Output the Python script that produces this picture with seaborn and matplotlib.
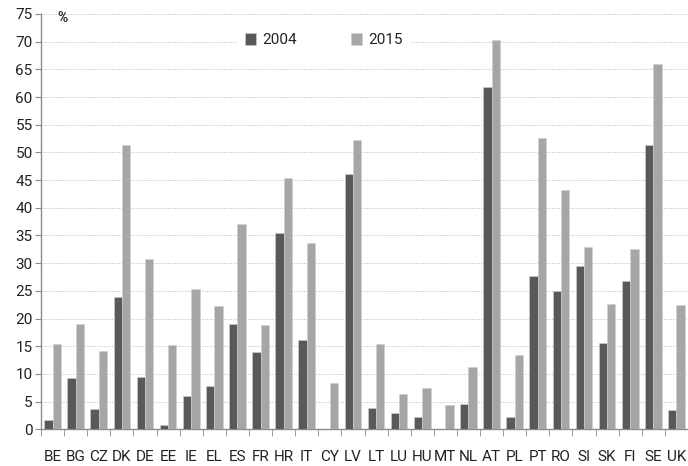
import numpy as np
import pandas as pd
import matplotlib
matplotlib.use('Agg')
import matplotlib.pyplot as plt
from matplotlib import font_manager
import seaborn as sns

countries = ['BE', 'BG', 'CZ', 'DK', 'DE', 'EE', 'IE', 'EL', 'ES', 'FR', 'HR', 'IT', 'CY', 'LV',
             'LT', 'LU', 'HU', 'MT', 'NL', 'AT', 'PL', 'PT', 'RO', 'SI', 'SK', 'FI', 'SE', 'UK']
v2004 = [1.6, 9.2, 3.7, 23.8, 9.4, 0.7, 6.1, 7.9, 19.1, 13.9, 35.4, 16.2, np.nan, 46.1,
         3.8, 2.9, 2.2, np.nan, 4.5, 61.9, 2.2, 27.6, 25.0, 29.4, 15.5, 26.8, 51.3, 3.4]
v2015 = [15.4, 19.1, 14.1, 51.3, 30.8, 15.2, 25.3, 22.2, 37.0, 18.8, 45.3, 33.6, 8.4, 52.3,
         15.4, 6.3, 7.4, 4.3, 11.3, 70.3, 13.4, 52.6, 43.2, 32.9, 22.7, 32.6, 65.9, 22.5]
years = ['2004', '2015']

df = pd.DataFrame({'country': countries * 2,
                   'year': [years[0]] * len(countries) + [years[1]] * len(countries),
                   'value': v2004 + v2015})

sns.set_style('white')
names = {f.name for f in font_manager.fontManager.ttflist}
fam = 'Liberation Sans Narrow' if 'Liberation Sans Narrow' in names else 'Roboto'
plt.rcParams['font.family'] = [fam, 'DejaVu Sans']

fig = plt.figure(figsize=(6.88, 4.66), dpi=100)
ax = fig.add_axes([0.0596, 0.0788, 0.9404, 0.8912])

sns.barplot(data=df, x='country', y='value', hue='year', palette=['#595959', '#a6a6a6'],
            width=0.72, gap=0, edgecolor='#d0d0d0', linewidth=0.4, ax=ax, zorder=3)

ax.set_ylim(0, 75)
ax.set_xlim(-0.5, len(countries) - 0.5)
ax.set_yticks(range(0, 80, 5))
ax.yaxis.grid(True, linestyle=(0, (1, 1.5)), color='#bdbdbd', linewidth=0.7, zorder=0)
ax.xaxis.grid(False)
ax.set_xlabel('')
ax.set_ylabel('')

for s in ['top', 'right']:
    ax.spines[s].set_visible(False)
for s in ['left', 'bottom']:
    ax.spines[s].set_color('#8c8c8c')
    ax.spines[s].set_linewidth(1.0)

ax.tick_params(axis='y', length=4, color='#8c8c8c', labelsize=11, labelcolor='#222222', pad=2, left=True)
ax.tick_params(axis='x', which='major', length=0, labelsize=11, labelcolor='#222222', pad=15)
ax.set_xticks(np.arange(-0.5, len(countries), 1), minor=True)
ax.tick_params(axis='x', which='minor', length=5, color='#8c8c8c', bottom=True)

leg = ax.legend(loc='upper center', bbox_to_anchor=(0.437, 0.972), ncol=2, frameon=True,
                fontsize=11, handlelength=0.75, handleheight=0.75, columnspacing=3.5,
                handletextpad=0.4, borderpad=0.5, borderaxespad=0)
leg.get_frame().set_facecolor('white')
leg.get_frame().set_edgecolor('white')
leg.get_frame().set_alpha(1)
leg.set_zorder(5)
for t in leg.get_texts():
    t.set_color('#222222')

fig.text(0.083, 0.962, '%', fontsize=10, fontweight='bold', ha='left', va='center')

fig.savefig('out.png', dpi=100)
